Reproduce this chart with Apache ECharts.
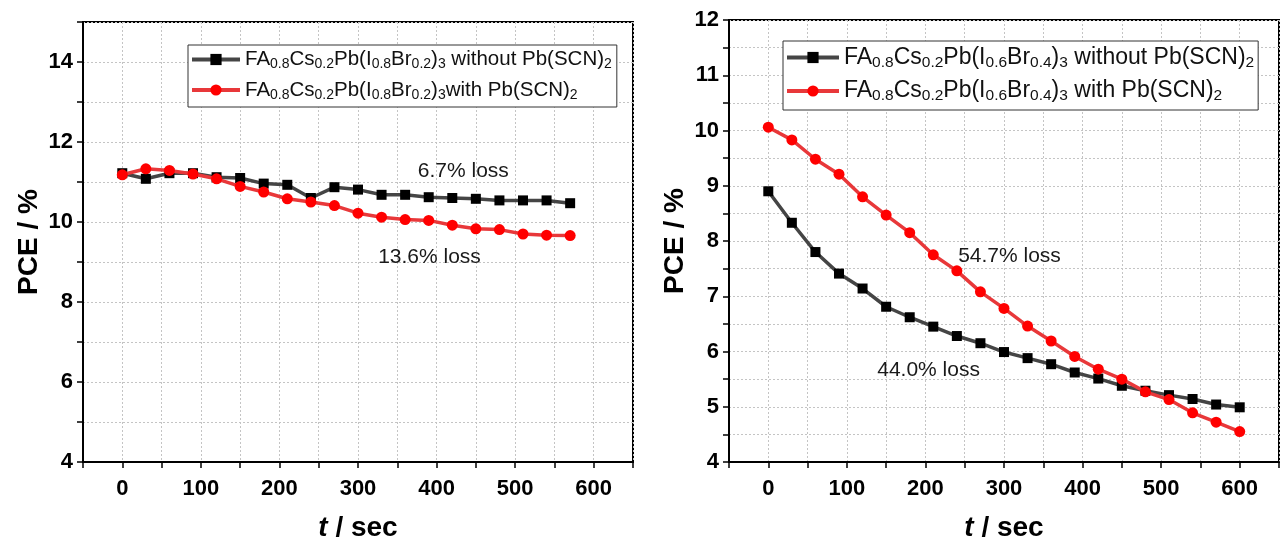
<!DOCTYPE html>
<html>
<head>
<meta charset="utf-8">
<script src="https://cdn.jsdelivr.net/npm/echarts@6/dist/echarts.min.js"></script>
<style>
  html, body { margin: 0; padding: 0; background: #ffffff; }
  #chart { width: 1284px; height: 543px; }
</style>
</head>
<body>
<div id="chart"></div>
<script>
// ---- data: PCE (%) versus time under continuous illumination ----
const timeLeft = [0, 30, 60, 90, 120, 150, 180, 210, 240, 270, 300, 330, 360, 390, 420, 450, 480, 510, 540, 570];
const pceLeftWithout = [11.22, 11.08, 11.22, 11.22, 11.12, 11.10, 10.96, 10.93, 10.60, 10.87, 10.81, 10.68, 10.68, 10.62, 10.60, 10.58, 10.54, 10.54, 10.54, 10.47];
const pceLeftWith = [11.18, 11.33, 11.29, 11.20, 11.08, 10.89, 10.75, 10.58, 10.50, 10.41, 10.22, 10.12, 10.06, 10.04, 9.92, 9.83, 9.81, 9.70, 9.67, 9.66];

const timeRight = [0, 30, 60, 90, 120, 150, 180, 210, 240, 270, 300, 330, 360, 390, 420, 450, 480, 510, 540, 570, 600];
const pceRightWithout = [8.90, 8.33, 7.80, 7.41, 7.14, 6.81, 6.62, 6.45, 6.28, 6.15, 5.99, 5.88, 5.77, 5.62, 5.51, 5.38, 5.29, 5.21, 5.14, 5.04, 4.99];
const pceRightWith = [10.06, 9.83, 9.48, 9.21, 8.80, 8.47, 8.15, 7.75, 7.46, 7.08, 6.78, 6.46, 6.19, 5.91, 5.68, 5.50, 5.27, 5.13, 4.89, 4.72, 4.55];

const leftNames = ['FA0.8Cs0.2Pb(I0.8Br0.2)3 without Pb(SCN)2', 'FA0.8Cs0.2Pb(I0.8Br0.2)3with Pb(SCN)2'];
const rightNames = ['FA0.8Cs0.2Pb(I0.6Br0.4)3 without Pb(SCN)2', 'FA0.8Cs0.2Pb(I0.6Br0.4)3 with Pb(SCN)2'];
const lossLeft = ['6.7% loss', '13.6% loss'];
const lossRight = ['44.0% loss', '54.7% loss'];

// legend labels with chemical subscripts, as rich text
const richNames = {
  [leftNames[0]]: '{m|FA}{s|0.8}{m|Cs}{s|0.2}{m|Pb(I}{s|0.8}{m|Br}{s|0.2}{m|)}{s|3}{m| without Pb(SCN)}{s|2}',
  [leftNames[1]]: '{m|FA}{s|0.8}{m|Cs}{s|0.2}{m|Pb(I}{s|0.8}{m|Br}{s|0.2}{m|)}{s|3}{m|with Pb(SCN)}{s|2}',
  [rightNames[0]]: '{m|FA}{s|0.8}{m|Cs}{s|0.2}{m|Pb(I}{s|0.6}{m|Br}{s|0.4}{m|)}{s|3}{m| without Pb(SCN)}{s|2}',
  [rightNames[1]]: '{m|FA}{s|0.8}{m|Cs}{s|0.2}{m|Pb(I}{s|0.6}{m|Br}{s|0.4}{m|)}{s|3}{m| with Pb(SCN)}{s|2}'
};

const FONT = '"Liberation Sans", Arial, Helvetica, sans-serif';
const pairs = (xs, ys) => xs.map((x, i) => [x, ys[i]]);

const GRAY_LINE = '#454545';
const RED_LINE = '#e8383a';

function xAxisFor(gridIndex) {
  return {
    type: 'value', gridIndex, min: -50, max: 650, interval: 50,
    name: '{i|t}{b| / sec}', nameLocation: 'middle', nameGap: 52,
    nameTextStyle: {
      rich: {
        i: { fontFamily: FONT, fontSize: 28, fontWeight: 'bold', fontStyle: 'italic', color: '#000' },
        b: { fontFamily: FONT, fontSize: 28, fontWeight: 'bold', color: '#000' }
      }
    },
    axisLine: { show: true, onZero: false, lineStyle: { color: '#000', width: 2 } },
    axisTick: { show: true, inside: false, length: 6, lineStyle: { color: '#000', width: 1.5 } },
    axisLabel: {
      margin: 16, fontFamily: FONT, fontSize: 22, fontWeight: 'bold', color: '#000',
      formatter: v => (v >= 0 && v <= 600 && v % 100 === 0) ? String(v) : ''
    },
    splitLine: { show: true, lineStyle: { color: '#c4c4c4', width: 1, type: [2, 2] } }
  };
}

function yAxisFor(gridIndex, min, max, interval, showLabel) {
  return {
    type: 'value', gridIndex, min, max, interval,
    name: 'PCE / %', nameLocation: 'middle', nameGap: 40,
    nameTextStyle: { fontFamily: FONT, fontSize: 28, fontWeight: 'bold', color: '#000' },
    axisLine: { show: true, onZero: false, lineStyle: { color: '#000', width: 2 } },
    axisTick: { show: true, inside: false, length: 6, lineStyle: { color: '#000', width: 1.5 } },
    axisLabel: {
      margin: 10, fontFamily: FONT, fontSize: 22, fontWeight: 'bold', color: '#000',
      formatter: showLabel
    },
    splitLine: { show: true, lineStyle: { color: '#c4c4c4', width: 1, type: [2, 2] } }
  };
}

function legendFor(names, left, top, mainSize, subSize, lineH, gap, iconW, pad) {
  return {
    data: names, orient: 'vertical', left, top,
    itemWidth: iconW, itemHeight: 14, itemGap: gap,
    padding: pad,
    borderColor: '#333', borderWidth: 1, backgroundColor: '#ffffff',
    lineStyle: { width: 4 },
    formatter: name => richNames[name],
    textStyle: {
      rich: {
        m: { fontFamily: FONT, fontSize: mainSize, color: '#111', lineHeight: lineH },
        s: { fontFamily: FONT, fontSize: subSize, color: '#111', lineHeight: subSize, verticalAlign: 'bottom' }
      }
    }
  };
}

function lossMark(text, coord, size) {
  return {
    symbol: 'circle', symbolSize: 1, silent: true,
    itemStyle: { color: 'rgba(0,0,0,0)' },
    label: { show: true, position: 'inside', formatter: '{b}', fontFamily: FONT, fontSize: size, color: '#1a1a1a' },
    data: [{ name: text, coord }]
  };
}

function grayLine(name, xi, yi, data, mark) {
  return {
    name, type: 'line', xAxisIndex: xi, yAxisIndex: yi, data, z: 3,
    symbol: 'rect', symbolSize: 10,
    itemStyle: { color: '#000' },
    lineStyle: { color: GRAY_LINE, width: 3.5 },
    markPoint: mark
  };
}

function redLine(name, xi, yi, data, mark) {
  return {
    name, type: 'line', xAxisIndex: xi, yAxisIndex: yi, data, z: 4,
    symbol: 'circle', symbolSize: 11,
    itemStyle: { color: '#ff0000' },
    lineStyle: { color: RED_LINE, width: 3.5 },
    markPoint: mark
  };
}

const chart = echarts.init(document.getElementById('chart'), null, { renderer: 'canvas' });

chart.setOption({
  animation: false,
  backgroundColor: '#ffffff',
  grid: [
    { left: 83, top: 22, width: 550, height: 440, outerBoundsMode: 'none', containLabel: false,
      show: true, borderColor: '#000', borderWidth: 2, backgroundColor: '#fff' },
    { left: 729, top: 20, width: 550, height: 442, outerBoundsMode: 'none', containLabel: false,
      show: true, borderColor: '#000', borderWidth: 2, backgroundColor: '#fff' }
  ],
  xAxis: [xAxisFor(0), xAxisFor(1)],
  yAxis: [
    yAxisFor(0, 4, 15, 1, v => (v % 2 === 0 && v < 15) ? String(v) : ''),
    yAxisFor(1, 4, 12, 0.5, v => Number.isInteger(v) ? String(v) : '')
  ],
  legend: [
    legendFor(leftNames, 188, 45, 20.5, 14, 24, 8, 48, [4, 5, 5, 2]),
    legendFor(rightNames, 783, 41, 23, 15.5, 26, 9, 52, [5, 4, 6, 2])
  ],
  series: [
    grayLine(leftNames[0], 0, 0, pairs(timeLeft, pceLeftWithout), lossMark(lossLeft[0], [434, 11.26], 21)),
    redLine(leftNames[1], 0, 0, pairs(timeLeft, pceLeftWith), lossMark(lossLeft[1], [391, 9.13], 21)),
    grayLine(rightNames[0], 1, 1, pairs(timeRight, pceRightWithout), lossMark(lossRight[0], [204, 5.67], 21)),
    redLine(rightNames[1], 1, 1, pairs(timeRight, pceRightWith), lossMark(lossRight[1], [307, 7.72], 21))
  ]
});
</script>
</body>
</html>
